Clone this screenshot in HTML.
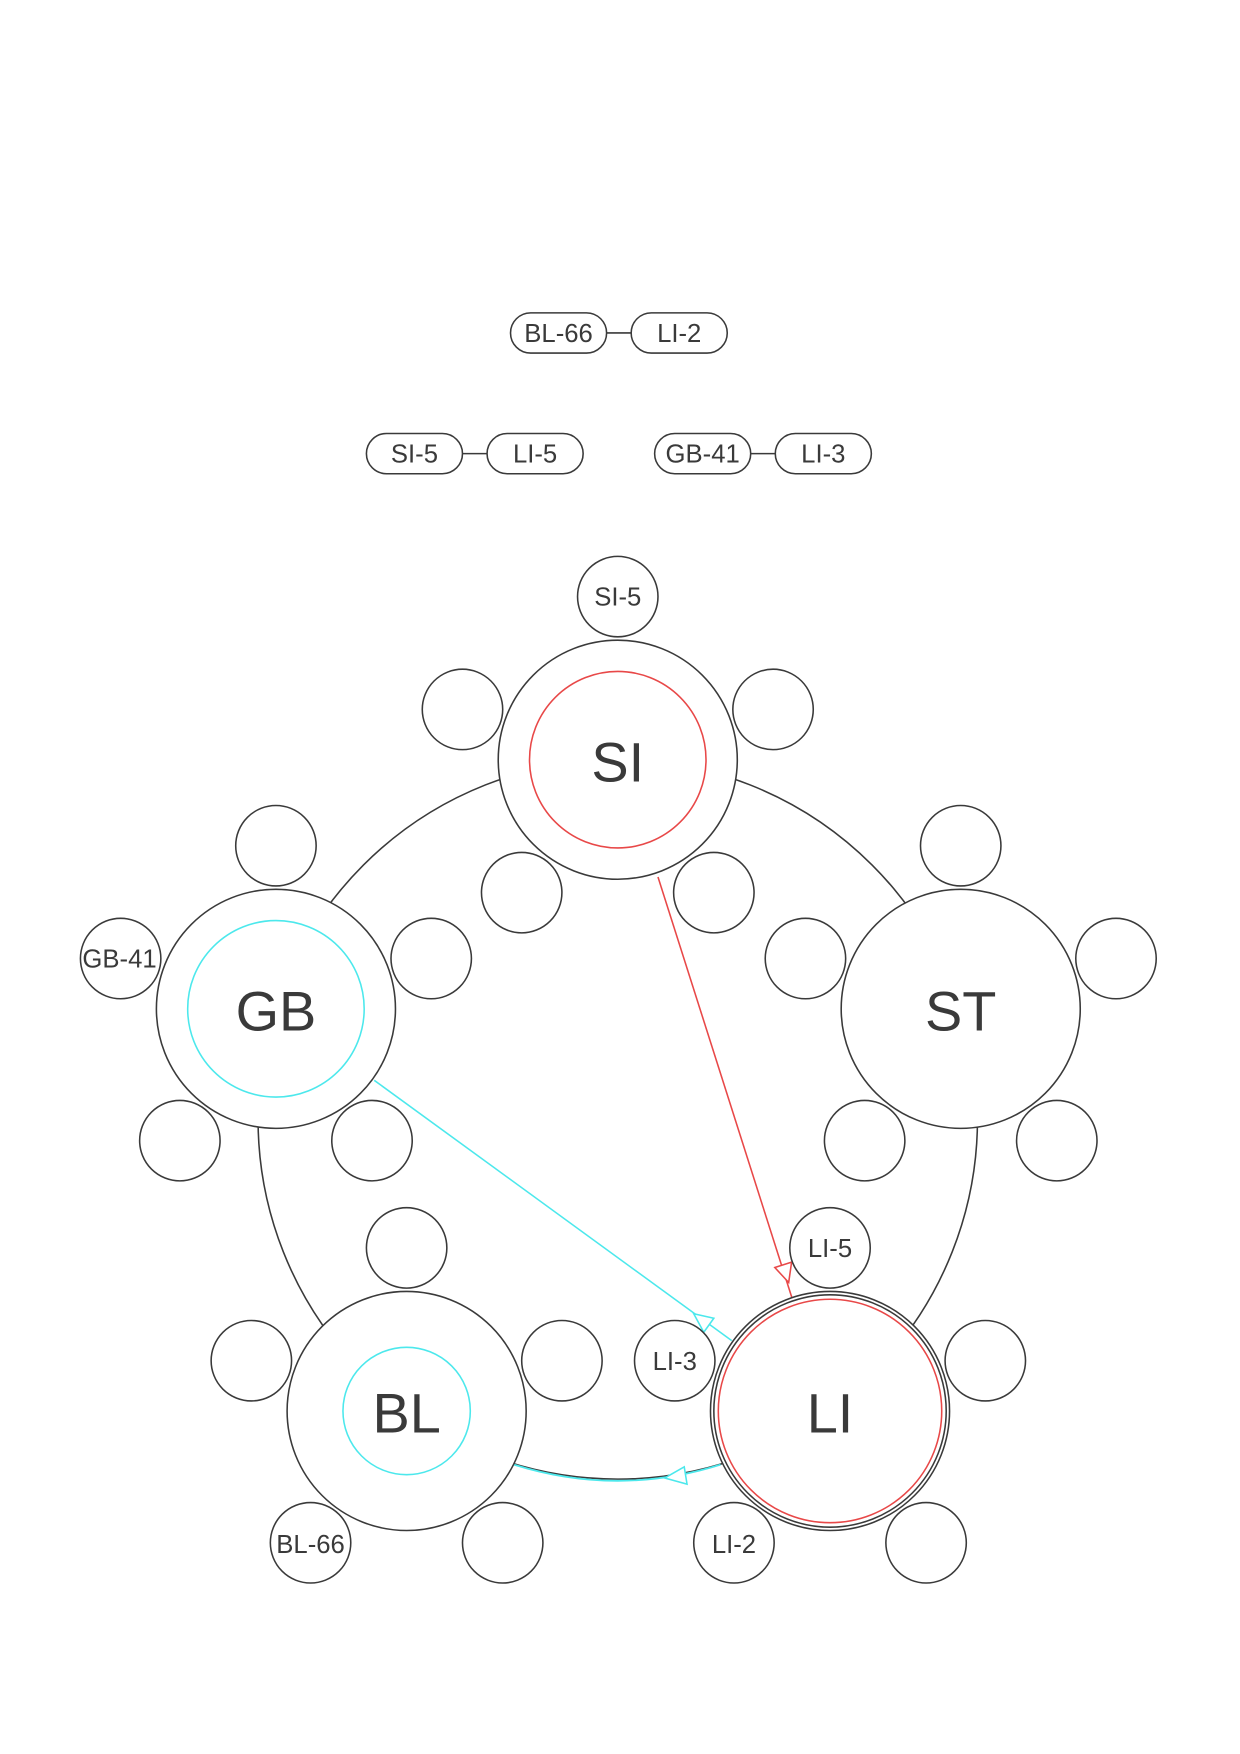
<!DOCTYPE html>
<html><head><meta charset="utf-8"><style>
html,body{margin:0;padding:0;background:#fff;}
svg{display:block;}
text{font-family:"Liberation Sans",Arial,sans-serif;fill:#3a3a3a;text-anchor:middle;dominant-baseline:central;}
</style></head><body>
<svg width="1240" height="1754" viewBox="0 0 1110 1570" xmlns="http://www.w3.org/2000/svg">
<rect width="1110" height="1570" fill="#fff"/>
<g fill="none" stroke="#3a3a3a" stroke-width="1.4">
<circle cx="553" cy="1002" r="322"/>
</g>
<!-- connectors -->
<line x1="589" y1="785" x2="709" y2="1162" stroke="#e84848" stroke-width="1.4"/>
<polygon points="706,1148 693.6,1134.6 708.6,1129.8" fill="#fff" stroke="#e84848" stroke-width="1.4"/>
<line x1="335" y1="967" x2="655" y2="1200" stroke="#4ce8ec" stroke-width="1.4"/>
<polygon points="621,1176 630,1192.5 639,1180" fill="#fff" stroke="#4ce8ec" stroke-width="1.4"/>
<path d="M645,1311 Q553,1340 460,1311" fill="none" stroke="#4ce8ec" stroke-width="1.6"/>
<polygon points="595,1323 615,1328.5 612.5,1313" fill="#fff" stroke="#4ce8ec" stroke-width="1.4"/>

<g fill="#fff" stroke="#3a3a3a" stroke-width="1.4">
<circle cx="553" cy="680" r="107"/>
<circle cx="553" cy="534" r="36"/><circle cx="414" cy="635" r="36"/><circle cx="692" cy="635" r="36"/><circle cx="467" cy="799" r="36"/><circle cx="639" cy="799" r="36"/>
<circle cx="247" cy="903" r="107"/>
<circle cx="247" cy="757" r="36"/><circle cx="108" cy="858" r="36"/><circle cx="386" cy="858" r="36"/><circle cx="161" cy="1021" r="36"/><circle cx="333" cy="1021" r="36"/>
<circle cx="860" cy="903" r="107"/>
<circle cx="860" cy="757" r="36"/><circle cx="721" cy="858" r="36"/><circle cx="999" cy="858" r="36"/><circle cx="774" cy="1021" r="36"/><circle cx="946" cy="1021" r="36"/>
<circle cx="364" cy="1263" r="107"/>
<circle cx="364" cy="1117" r="36"/><circle cx="225" cy="1218" r="36"/><circle cx="503" cy="1218" r="36"/><circle cx="278" cy="1381" r="36"/><circle cx="450" cy="1381" r="36"/>
<circle cx="743" cy="1263" r="107"/>
<circle cx="743" cy="1263" r="104"/>
<circle cx="743" cy="1117" r="36"/><circle cx="604" cy="1218" r="36"/><circle cx="882" cy="1218" r="36"/><circle cx="657" cy="1381" r="36"/><circle cx="829" cy="1381" r="36"/>
</g>
<g fill="none" stroke-width="1.4">
<circle cx="553" cy="680" r="79" stroke="#e84848"/>
<circle cx="247" cy="903" r="79" stroke="#4ce8ec"/>
<circle cx="364" cy="1263" r="57" stroke="#4ce8ec"/>
<circle cx="743" cy="1263" r="100" stroke="#e84848"/>
</g>
<g font-size="50">
<text x="553" y="682">SI</text>
<text x="247" y="905">GB</text>
<text x="860" y="905">ST</text>
<text x="364" y="1265">BL</text>
<text x="743" y="1265">LI</text>
</g>
<g font-size="23">
<text x="553" y="535">SI-5</text>
<text x="107" y="859">GB-41</text>
<text x="278" y="1383">BL-66</text>
<text x="743" y="1118">LI-5</text>
<text x="604" y="1219">LI-3</text>
<text x="657" y="1383">LI-2</text>
</g>
<g fill="#fff" stroke="#3a3a3a" stroke-width="1.4">
<line x1="543" y1="298" x2="565" y2="298"/>
<rect x="457" y="280" width="86" height="36" rx="18"/>
<rect x="565" y="280" width="86" height="36" rx="18"/>
<line x1="414" y1="406" x2="436" y2="406"/>
<rect x="328" y="388" width="86" height="36" rx="18"/>
<rect x="436" y="388" width="86" height="36" rx="18"/>
<line x1="672" y1="406" x2="694" y2="406"/>
<rect x="586" y="388" width="86" height="36" rx="18"/>
<rect x="694" y="388" width="86" height="36" rx="18"/>
</g>
<g font-size="23">
<text x="500" y="299">BL-66</text>
<text x="608" y="299">LI-2</text>
<text x="371" y="407">SI-5</text>
<text x="479" y="407">LI-5</text>
<text x="629" y="407">GB-41</text>
<text x="737" y="407">LI-3</text>
</g>
</svg>
</body></html>
